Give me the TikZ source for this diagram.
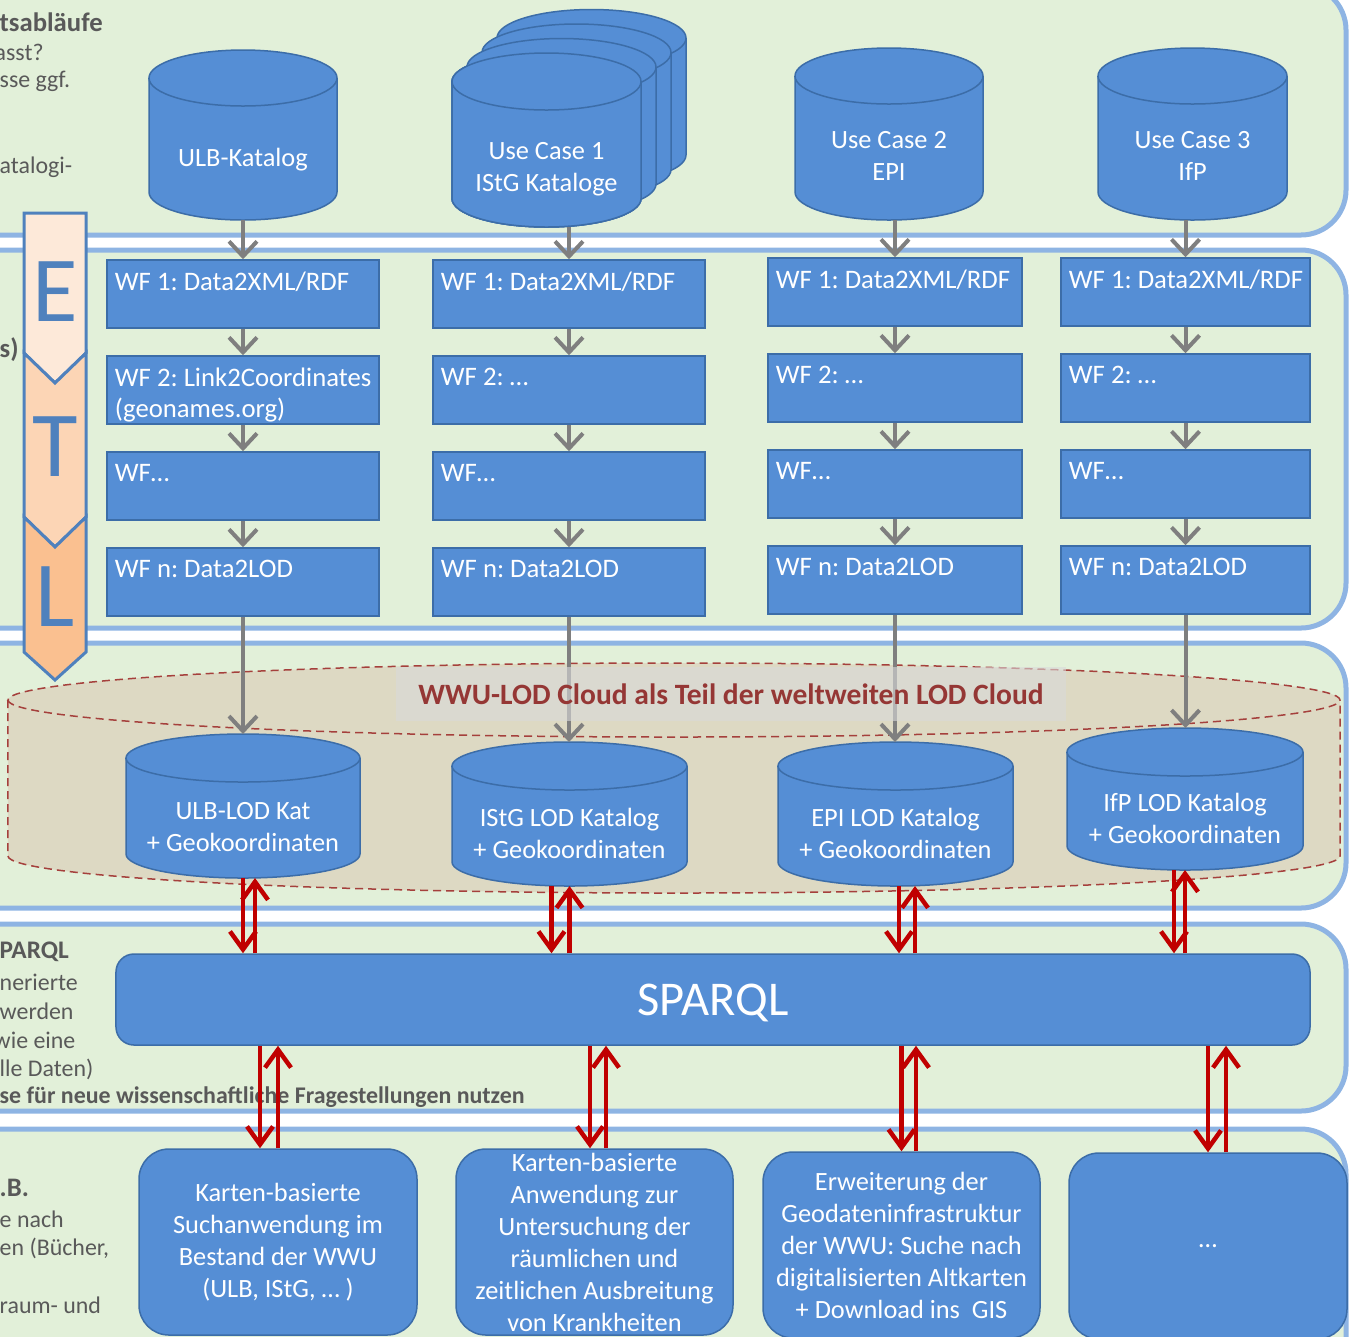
\documentclass[tikz,border=0pt]{standalone}
\usepackage{fontspec}
\setmainfont{Carlito}
\usetikzlibrary{arrows.meta,positioning}
\definecolor{bandfill}{HTML}{E2F0D9}
\definecolor{bandline}{HTML}{8EB4E3}
\definecolor{boxblue}{HTML}{558ED5}
\definecolor{boxline}{HTML}{3C6DA8}
\definecolor{flowgray}{HTML}{7F7F7F}
\definecolor{linkred}{HTML}{C00000}
\definecolor{cloudfill}{HTML}{DDD9C3}
\definecolor{cloudline}{HTML}{A5403C}
\definecolor{titlered}{HTML}{953735}
\definecolor{notegray}{HTML}{595959}
\definecolor{etlone}{HTML}{FDE9D9}
\definecolor{etltwo}{HTML}{FCD5B5}
\definecolor{etlthree}{HTML}{FAC090}
\definecolor{etlblue}{HTML}{4F81BD}
\tikzset{
band/.style={fill=bandfill, draw=bandline, line width=0.5mm, rounded corners=4.5mm},
note/.style={anchor=west, inner sep=0pt, text=notegray, font=\fontsize{6.8}{8}\selectfont},
notebold/.style={note, font=\bfseries\fontsize{7.6}{8}\selectfont},
dbshape/.style={draw=boxline, line width=0.15mm, fill=boxblue},
cloudshape/.style={draw=cloudline, line width=0.15mm, dash pattern=on 0.8mm off 0.5mm, fill=cloudfill},
dbtext/.style={text=white, align=center, inner sep=0pt, font=\fontsize{7.5}{9.1}\selectfont},
wfbox/.style={draw=boxline, line width=0.15mm, fill=boxblue, minimum height=6.8mm},
wftext/.style={anchor=north west, text=white, align=left, font=\fontsize{7.6}{8.9}\selectfont, inner xsep=0.8mm, inner ysep=1.2mm},
flow/.style={draw=flowgray, line width=0.4mm, -{Straight Barb[length=1.5mm,width=2.8mm]}},
link/.style={draw=linkred, line width=0.45mm, -{Straight Barb[length=1.8mm,width=2.6mm]}},
app/.style={rounded corners=3mm, draw=boxline, line width=0.15mm, fill=boxblue, text=white, align=center, font=\fontsize{7.5}{9.1}\selectfont, inner sep=0pt},
etl/.style={draw=etlblue, line width=0.3mm, line join=miter},
etlletter/.style={text=etlblue, inner sep=0pt, font=\fontsize{26.5}{27}\selectfont}
}
% database cylinder: [style]{name}{centre x}{top y}{bottom y}{half width}{cap radius}
\newcommand{\database}[7][dbshape]{%
\path[#1] ({#3-#6},{#4+#7}) -- ({#3-#6},{#5-#7}) arc[start angle=180,end angle=360,x radius=#6mm,y radius=#7mm] -- ({#3+#6},{#4+#7}) arc[start angle=0,end angle=180,x radius=#6mm,y radius=#7mm] -- cycle;
\path[#1, fill=none] ({#3-#6},{#4+#7}) arc[start angle=180,end angle=360,x radius=#6mm,y radius=#7mm];
\coordinate (#2 top) at (#3,#4);
\coordinate (#2 bot) at (#3,#5);
}
\begin{document}
\frenchspacing
\begin{tikzpicture}[x=1mm,y=-1mm]
\useasboundingbox (0,0) rectangle (134.9,133.6);
\clip (0,0) rectangle (134.9,133.6);
%% Bands
\draw[band] (-10,-1.5) rectangle (134.6,23.5);
\draw[band] (-10,25) rectangle (134.6,62.8);
\draw[band] (-10,64.3) rectangle (134.6,90.8);
\draw[band] (-10,92.4) rectangle (134.6,111.1);
\draw[band] (-10,112.9) rectangle (134.6,145);
%% Notes on the left
\node[notebold] (n1) at (-0.1,2.2) {tsabläufe};
\node[note] (n2) at (-0.6,5.2) {asst?};
\node[note] (n3) at (-0.1,8.1) {sse ggf.};
\node[note] (n4) at (-0.1,16.7) {atalogi-};
\node[notebold] (n5) at (-0.1,35) {s)};
\node[notebold, font=\bfseries\fontsize{7.2}{8}\selectfont] (n6) at (-0.1,95.2) {PARQL};
\node[note] (n7) at (-0.1,98.2) {nerierte};
\node[note] (n8) at (-0.1,101.1) {werden};
\node[note] (n9) at (-0.7,104) {wie eine};
\node[note] (n10) at (-0.1,106.9) {lle Daten)};
\node[notebold, font=\bfseries\fontsize{6.8}{8}\selectfont] (n11) at (-0.1,109.7) {se für neue wissenschaftliche Fragestellungen nutzen};
\node[notebold] (n12) at (-0.1,118.8) {.B.};
\node[note] (n13) at (-0.1,121.9) {e nach};
\node[note] (n14) at (-0.1,124.8) {en (Bücher,};
\node[note] (n15) at (-0.1,130.5) {raum- und};
%% Cloud
\database[cloudshape]{cloud}{67.4}{66.3}{89.3}{66.6}{3.7}
%% Sources
\database{ulbdb}{24.3}{5}{22}{9.4}{2.8}
\node[dbtext] (ulb) at (24.3,16) {ULB-Katalog};
\foreach \k in {3,2,1}
  \database{uc1b\k}{54.65+1.5*\k}{5.3-1.45*\k}{22.7-1.45*\k}{9.45}{2.85}
\database{uc1db}{54.65}{5.3}{22.7}{9.45}{2.85}
\node[dbtext] (uc1) at (54.65,16.9) {Use Case 1\\IStG Kataloge};
\database{uc2db}{88.9}{4.8}{22}{9.4}{2.8}
\node[dbtext] (uc2) at (88.9,15.6) {Use Case 2\\EPI};
\database{uc3db}{119.25}{4.8}{22}{9.45}{2.8}
\node[dbtext] (uc3) at (119.25,15.6) {Use Case 3\\IfP};
%% Workflows
\node[wfbox, minimum width=27.2mm, label={[wftext]north west:WF 1: Data2XML/RDF}] (wf11) at (24.3,29.4) {};
\node[wfbox, minimum width=27.2mm, label={[wftext]north west:WF 2: Link2Coordinates\\(geonames.org)}] (wf12) at (24.3,39) {};
\node[wfbox, minimum width=27.2mm, label={[wftext]north west:WF…}] (wf13) at (24.3,48.6) {};
\node[wfbox, minimum width=27.2mm, label={[wftext]north west:WF n: Data2LOD}] (wf14) at (24.3,58.2) {};
\node[wfbox, minimum width=27.2mm, label={[wftext]north west:WF 1: Data2XML/RDF}] (wf21) at (56.9,29.4) {};
\node[wfbox, minimum width=27.2mm, label={[wftext]north west:WF 2: …}] (wf22) at (56.9,39) {};
\node[wfbox, minimum width=27.2mm, label={[wftext]north west:WF…}] (wf23) at (56.9,48.6) {};
\node[wfbox, minimum width=27.2mm, label={[wftext]north west:WF n: Data2LOD}] (wf24) at (56.9,58.2) {};
\node[wfbox, minimum width=25.4mm, label={[wftext]north west:WF 1: Data2XML/RDF}] (wf31) at (89.5,29.2) {};
\node[wfbox, minimum width=25.4mm, label={[wftext]north west:WF 2: …}] (wf32) at (89.5,38.8) {};
\node[wfbox, minimum width=25.4mm, label={[wftext]north west:WF…}] (wf33) at (89.5,48.4) {};
\node[wfbox, minimum width=25.4mm, label={[wftext]north west:WF n: Data2LOD}] (wf34) at (89.5,58) {};
\node[wfbox, minimum width=24.9mm, label={[wftext]north west:WF 1: Data2XML/RDF}] (wf41) at (118.55,29.2) {};
\node[wfbox, minimum width=24.9mm, label={[wftext]north west:WF 2: …}] (wf42) at (118.55,38.8) {};
\node[wfbox, minimum width=24.9mm, label={[wftext]north west:WF…}] (wf43) at (118.55,48.4) {};
\node[wfbox, minimum width=24.9mm, label={[wftext]north west:WF n: Data2LOD}] (wf44) at (118.55,58) {};
%% LOD catalogues
\database{lod1db}{24.3}{73.4}{87.8}{11.7}{2.4}
\node[dbtext] (lod1) at (24.3,82.7) {ULB-LOD Kat\\+ Geokoordinaten};
\database{lod2db}{56.95}{74.2}{88.6}{11.75}{2.4}
\node[dbtext] (lod2) at (56.95,83.3) {IStG LOD Katalog\\+ Geokoordinaten};
\database{lod3db}{89.55}{74.2}{88.6}{11.75}{2.4}
\node[dbtext] (lod3) at (89.55,83.3) {EPI LOD Katalog\\+ Geokoordinaten};
\database{lod4db}{118.5}{72.8}{87}{11.8}{2.4}
\node[dbtext] (lod4) at (118.5,81.8) {IfP LOD Katalog\\+ Geokoordinaten};
%% Flow arrows
\draw[flow] (ulbdb bot) -- (wf11.north);
\draw[flow] (uc1db bot -| wf21.north) -- (wf21.north);
\draw[flow] (uc2db bot -| wf31.north) -- (wf31.north);
\draw[flow] (uc3db bot -| wf41.north) -- (wf41.north);
\foreach \c in {1,...,4}{
  \draw[flow] (wf\c1.south) -- (wf\c2.north);
  \draw[flow] (wf\c2.south) -- (wf\c3.north);
  \draw[flow] (wf\c3.south) -- (wf\c4.north);
}
\draw[flow] (wf14.south) -- (wf14.south |- lod1db top);
\draw[flow] (wf24.south) -- (wf24.south |- lod2db top);
\draw[flow] (wf34.south) -- (wf34.south |- lod3db top);
\draw[flow] (wf44.south) -- (wf44.south |- lod4db top);
%% Cloud title
\node[fill=black!15, fill opacity=0.6, text opacity=1, text=titlered, font=\bfseries\fontsize{8.4}{9}\selectfont, minimum width=67mm, minimum height=5.4mm] (cloudtitle) at (73.1,69.4) {WWU-LOD Cloud als Teil der weltweiten LOD Cloud};
%% SPARQL and applications
\node[app, rounded corners=1.8mm, minimum width=119.4mm, minimum height=9.1mm, text depth=0pt, font=\fontsize{13.8}{16}\selectfont] (sparql) at (71.3,99.95) {SPARQL};
\node[app, minimum width=27.8mm, minimum height=18.6mm] (app1) at (27.8,124.2) {Karten-basierte\\Suchanwendung im\\Bestand der WWU\\(ULB, IStG, … )};
\node[app, minimum width=27.7mm, minimum height=18.6mm] (app2) at (59.45,124.2) {Karten-basierte\\Anwendung zur\\Untersuchung der\\räumlichen und\\zeitlichen Ausbreitung\\von Krankheiten};
\node[app, minimum width=27.7mm, minimum height=18.6mm] (app3) at (90.15,124.5) {Erweiterung der\\Geodateninfrastruktur\\der WWU: Suche nach\\digitalisierten Altkarten\\+ Download ins\ \ GIS};
\node[app, minimum width=27.8mm, minimum height=18.6mm] (app4) at (120.8,124.6) {…};
%% Links
\draw[link] (lod1db bot) -- (lod1db bot |- sparql.north);
\draw[link] ([xshift=1.2mm]lod1db bot |- sparql.north) -- ([xshift=1.2mm]lod1db bot);
\draw[link] ([xshift=-1.8mm]lod2db bot) -- ([xshift=-1.8mm]lod2db bot |- sparql.north);
\draw[link] (lod2db bot |- sparql.north) -- (lod2db bot);
\draw[link] ([xshift=0.35mm]lod3db bot) -- ([xshift=0.35mm]lod3db bot |- sparql.north);
\draw[link] ([xshift=1.95mm]lod3db bot |- sparql.north) -- ([xshift=1.95mm]lod3db bot);
\draw[link] ([xshift=-1.1mm]lod4db bot) -- ([xshift=-1.1mm]lod4db bot |- sparql.north);
\draw[link] (lod4db bot |- sparql.north) -- (lod4db bot);
\draw[link] ([xshift=-1.8mm]app1.north |- sparql.south) -- ([xshift=-1.8mm]app1.north);
\draw[link] (app1.north) -- (app1.north |- sparql.south);
\draw[link] ([xshift=-0.45mm]app2.north |- sparql.south) -- ([xshift=-0.45mm]app2.north);
\draw[link] ([xshift=1.15mm]app2.north) -- ([xshift=1.15mm]app2.north |- sparql.south);
\draw[link] (app3.north |- sparql.south) -- (app3.north);
\draw[link] ([xshift=1.45mm]app3.north) -- ([xshift=1.45mm]app3.north |- sparql.south);
\draw[link] (app4.north |- sparql.south) -- (app4.north);
\draw[link] ([xshift=1.8mm]app4.north) -- ([xshift=1.8mm]app4.north |- sparql.south);
%% ETL
\draw[etl, fill=etlone] (2.4,21.3) -- (8.6,21.3) -- (8.6,35.3) -- (5.5,38.3) -- (2.4,35.3) -- cycle;
\draw[etl, fill=etltwo] (2.4,35.3) -- (5.5,38.3) -- (8.6,35.3) -- (8.6,51.7) -- (5.5,54.7) -- (2.4,51.7) -- cycle;
\draw[etl, fill=etlthree] (2.4,51.7) -- (5.5,54.7) -- (8.6,51.7) -- (8.6,65.2) -- (5.5,68) -- (2.4,65.2) -- cycle;
\node[etlletter] (etlE) at (5.5,29.2) {E};
\node[etlletter] (etlT) at (5.5,44.7) {T};
\node[etlletter] (etlL) at (5.5,59.7) {L};
\end{tikzpicture}
\end{document}
